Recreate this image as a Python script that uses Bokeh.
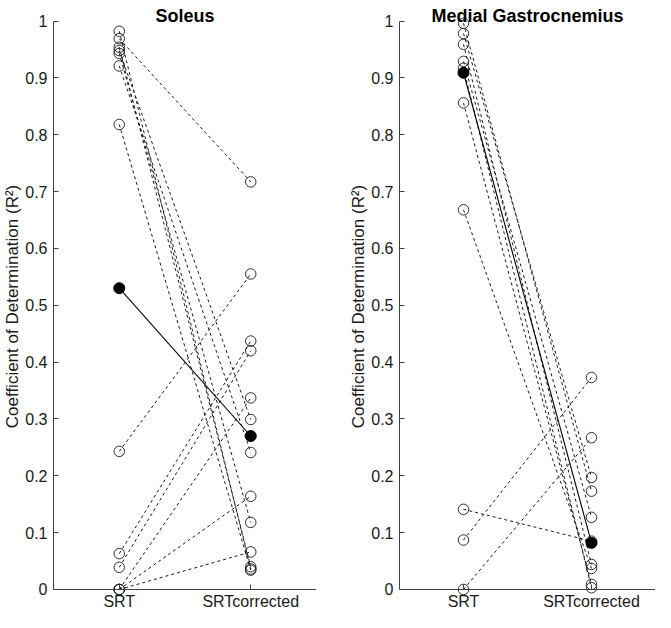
from bokeh.plotting import figure
from bokeh.models import FixedTicker, Label
from bokeh.layouts import row
from bokeh.embed import file_html
from bokeh.resources import INLINE

# ---------------- data ----------------
conditions = ["SRT", "SRTcorrected"]
x_pos = [1, 2]
y_ticks = [0, 0.1, 0.2, 0.3, 0.4, 0.5, 0.6, 0.7, 0.8, 0.9, 1.0]
y_tick_labels = ["0", "0.1", "0.2", "0.3", "0.4", "0.5", "0.6", "0.7", "0.8", "0.9", "1"]

# Soleus: per-subject R² (SRT -> SRTcorrected)
sol_srt = [0.982, 0.969, 0.954, 0.948, 0.943, 0.921, 0.818, 0.243, 0.063, 0.039, 0.000, 0.000, 0.000]
sol_cor = [0.036, 0.717, 0.040, 0.299, 0.118, 0.241, 0.034, 0.555, 0.437, 0.420, 0.337, 0.164, 0.066]
sol_summary = [0.530, 0.270]

# Medial Gastrocnemius
mg_srt = [0.996, 0.978, 0.959, 0.929, 0.917, 0.856, 0.668, 0.141, 0.087, 0.000]
mg_cor = [0.173, 0.197, 0.044, 0.127, 0.003, 0.009, 0.037, 0.085, 0.373, 0.267]
mg_summary = [0.909, 0.082]

FONT = "Liberation Sans"
AX = "#404040"
TXT = "#1a1a1a"


def make_panel(title, srt, cor, summary, width, b_left, b_right):
    p = figure(width=width, height=612, x_range=(0.5, 2.5), y_range=(-0.0405, 1.0361),
               output_backend="svg", toolbar_location=None,
               min_border_left=b_left, min_border_right=b_right,
               min_border_top=0, min_border_bottom=0)
    p.outline_line_color = None
    p.grid.visible = False

    xs = [[x_pos[0], x_pos[1]] for _ in srt]
    ys = [[a, b] for a, b in zip(srt, cor)]
    p.multi_line(xs, ys, line_color="#1a1a1a", line_width=1.0, line_dash="3 3")
    p.line(x_pos, summary, line_color="black", line_width=1.1)

    p.scatter([x_pos[0]] * len(srt), srt, size=10.5, fill_color=None,
              line_color="#1a1a1a", line_width=0.9)
    p.scatter([x_pos[1]] * len(cor), cor, size=10.5, fill_color=None,
              line_color="#1a1a1a", line_width=0.9)
    p.scatter(x_pos, summary, size=11, fill_color="black", line_color="black")

    # x axis (placed at y = 0)
    xa = p.xaxis[0]
    xa.ticker = FixedTicker(ticks=x_pos)
    xa.major_label_overrides = {x: c for x, c in zip(x_pos, conditions)}
    xa.fixed_location = 0
    xa.minor_tick_line_color = None
    xa.major_tick_in = 5
    xa.major_tick_out = 0
    xa.major_label_standoff = 4
    xa.axis_line_color = AX
    xa.major_tick_line_color = AX
    xa.major_label_text_font = FONT
    xa.major_label_text_font_size = "16px"
    xa.major_label_text_color = TXT

    # y axis
    ya = p.yaxis[0]
    ya.ticker = FixedTicker(ticks=y_ticks)
    ya.major_label_overrides = {t: l for t, l in zip(y_ticks, y_tick_labels)}
    ya.bounds = (0, 1)
    ya.minor_tick_line_color = None
    ya.major_tick_in = 5
    ya.major_tick_out = 0
    ya.major_label_standoff = 6
    ya.axis_line_color = AX
    ya.major_tick_line_color = AX
    ya.major_label_text_font = FONT
    ya.major_label_text_font_size = "16px"
    ya.major_label_text_color = TXT
    ya.axis_label = "Coefficient of Determination (R²)"
    ya.axis_label_text_font = FONT
    ya.axis_label_text_font_size = "17px"
    ya.axis_label_text_font_style = "normal"
    ya.axis_label_text_color = TXT
    ya.axis_label_standoff = 0

    t = Label(x=1.5, y=1.0, x_units="data", y_units="data", y_offset=5.5,
              text=title, text_align="center", text_baseline="alphabetic",
              text_font=FONT, text_font_size="18px", text_font_style="bold",
              text_color="black")
    p.add_layout(t)
    return p


p1 = make_panel("Soleus", sol_srt, sol_cor, sol_summary, 346, 53, 30)
p2 = make_panel("Medial Gastrocnemius", mg_srt, mg_cor, mg_summary, 309, 53, 0)

layout = row(p1, p2)
open("out.html", "w").write(file_html(layout, INLINE))
